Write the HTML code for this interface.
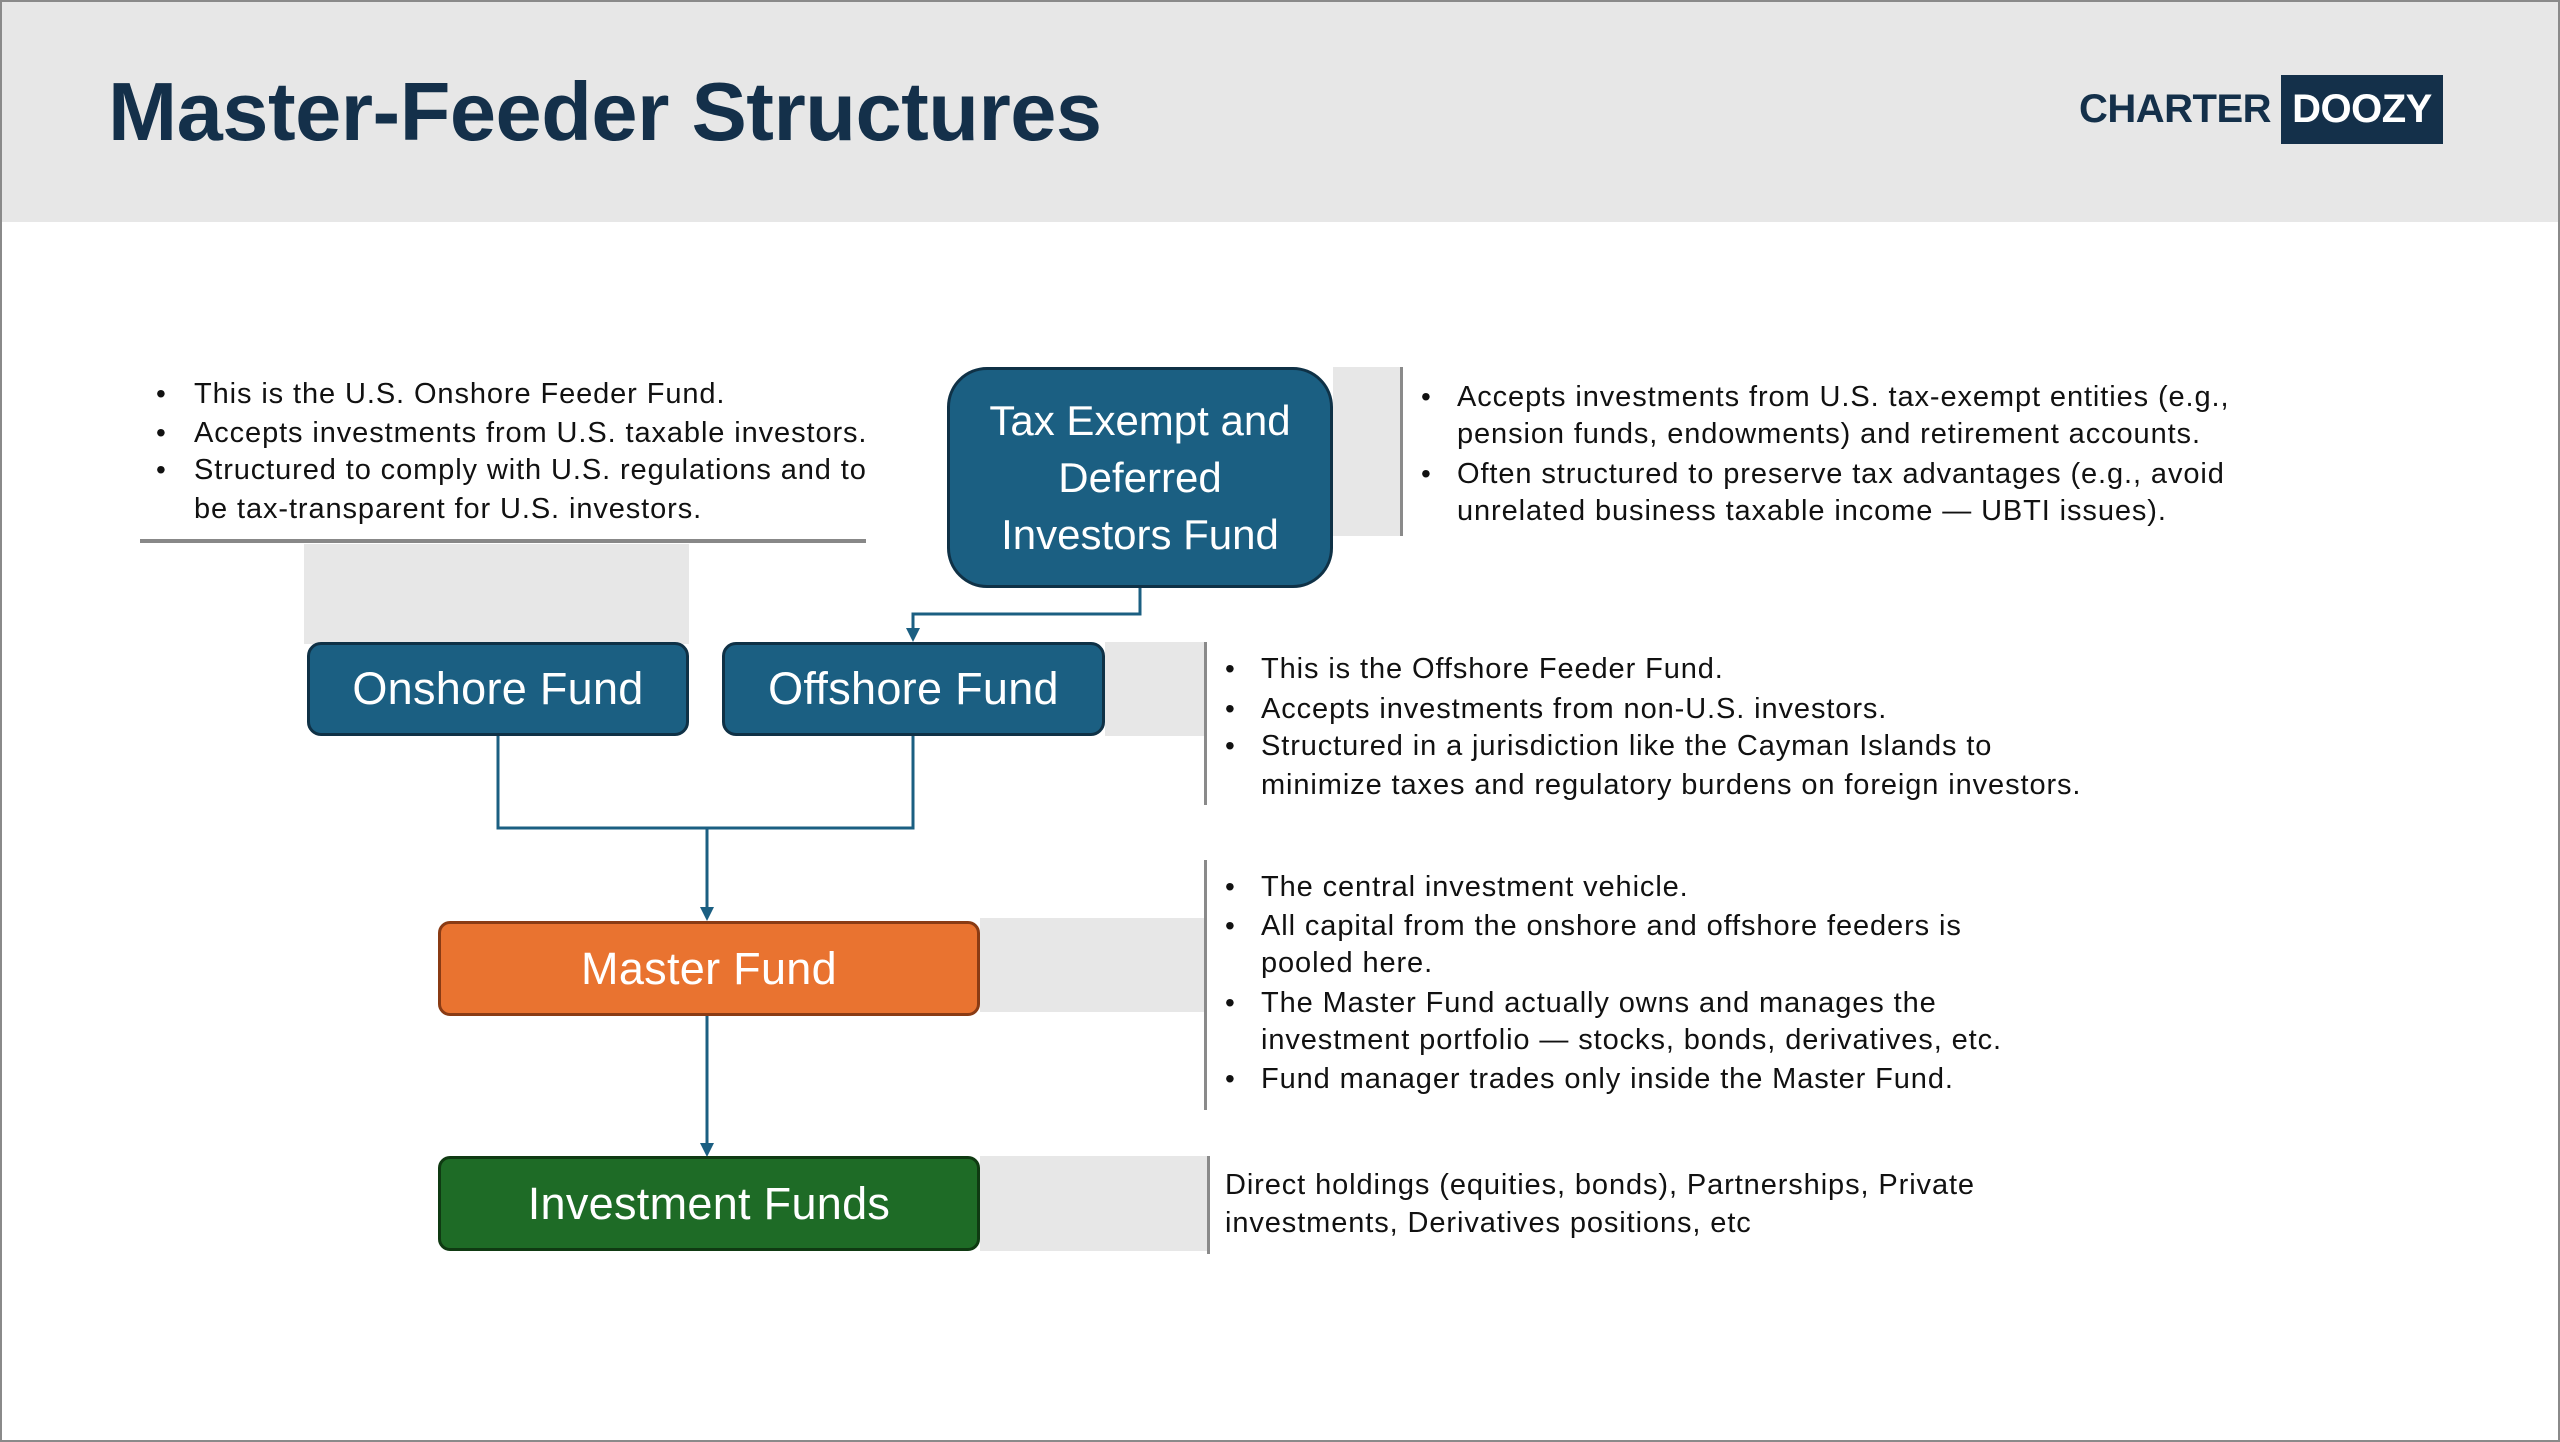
<!DOCTYPE html>
<html><head><meta charset="utf-8"><style>
html,body{margin:0;padding:0}
body{width:2560px;height:1442px;position:relative;overflow:hidden;background:#fff;font-family:"Liberation Sans",sans-serif;}
.frame{position:absolute;left:0;top:0;width:2556px;height:1438px;border:2px solid #8a8a8a;}
.hdr{position:absolute;left:2px;top:2px;width:2556px;height:220px;background:#e7e7e7}
.t{position:absolute;font-size:29px;color:#111;white-space:nowrap;letter-spacing:0.9px;line-height:1}
.b{position:absolute;font-size:28px;color:#111;line-height:1}
.g{position:absolute;background:#e7e7e7}
.vl{position:absolute;width:3px;background:#8a8a8a}
.box{position:absolute;box-sizing:border-box;display:flex;align-items:center;justify-content:center;color:#fff;text-align:center;font-size:45px;letter-spacing:0.3px}
</style></head><body>
<div class="frame"></div>
<div class="hdr"></div>
<div style="position:absolute;left:108px;top:70px;font-size:83px;font-weight:bold;color:#14304a;letter-spacing:-0.5px;line-height:1">Master-Feeder Structures</div>
<div style="position:absolute;left:2079px;top:89px;font-size:40px;font-weight:bold;color:#14304a;line-height:1;letter-spacing:-0.5px">CHARTER</div>
<div style="position:absolute;left:2281px;top:75px;width:162px;height:69px;background:#14304a;color:#fff;font-size:40px;font-weight:bold;display:flex;align-items:center;justify-content:center;letter-spacing:-0.5px">DOOZY</div>

<div class="g" style="left:304px;top:544px;width:385px;height:100px"></div>
<div class="g" style="left:1333px;top:367px;width:68px;height:169px"></div>
<div class="g" style="left:1105px;top:642px;width:100px;height:94px"></div>
<div class="g" style="left:980px;top:918px;width:225px;height:94px"></div>
<div class="g" style="left:980px;top:1156px;width:229px;height:95px"></div>
<div class="vl" style="left:1400px;top:367px;height:169px"></div>
<div class="vl" style="left:1204px;top:642px;height:163px"></div>
<div class="vl" style="left:1204px;top:860px;height:250px"></div>
<div class="vl" style="left:1207px;top:1156px;height:98px"></div>
<div style="position:absolute;left:140px;top:539px;width:726px;height:4px;background:#888"></div>

<svg style="position:absolute;left:0;top:0" width="2560" height="1442">
<g stroke="#1b5f82" stroke-width="3" fill="none">
<polyline points="1140,588 1140,614 913,614 913,630"/>
<polyline points="498,736 498,828 913,828 913,736"/>
<line x1="707" y1="828" x2="707" y2="910"/>
<line x1="707" y1="1016" x2="707" y2="1146"/>
</g>
<g fill="#1b5f82">
<polygon points="906,628 920,628 913,642"/>
<polygon points="700,907 714,907 707,921"/>
<polygon points="700,1143 714,1143 707,1157"/>
</g>
</svg>

<div class="box" style="left:947px;top:367px;width:386px;height:221px;border-radius:40px;background:#1b5f82;border:3px solid #0f3146;line-height:57px;font-size:42px;letter-spacing:0">Tax Exempt and<br>Deferred<br>Investors Fund</div>
<div class="box" style="left:307px;top:642px;width:382px;height:94px;border-radius:14px;background:#1b5f82;border:3px solid #0f3146">Onshore Fund</div>
<div class="box" style="left:722px;top:642px;width:383px;height:94px;border-radius:14px;background:#1b5f82;border:3px solid #0f3146">Offshore Fund</div>
<div class="box" style="left:438px;top:921px;width:542px;height:95px;border-radius:12px;background:#e97330;border:3px solid #8a3b14">Master Fund</div>
<div class="box" style="left:438px;top:1156px;width:542px;height:95px;border-radius:12px;background:#1e6b26;border:3px solid #0f3a12">Investment Funds</div>

<div class="b" style="left:156px;top:380px">•</div><div class="t" style="left:194px;top:380px">This is the U.S. Onshore Feeder Fund.</div>
<div class="b" style="left:156px;top:419px">•</div><div class="t" style="left:194px;top:419px">Accepts investments from U.S. taxable investors.</div>
<div class="b" style="left:156px;top:456px">•</div><div class="t" style="left:194px;top:456px">Structured to comply with U.S. regulations and to</div>
<div class="t" style="left:194px;top:495px">be tax-transparent for U.S. investors.</div>

<div class="b" style="left:1421px;top:383px">•</div><div class="t" style="left:1457px;top:383px">Accepts investments from U.S. tax-exempt entities (e.g.,</div>
<div class="t" style="left:1457px;top:420px">pension funds, endowments) and retirement accounts.</div>
<div class="b" style="left:1421px;top:460px">•</div><div class="t" style="left:1457px;top:460px">Often structured to preserve tax advantages (e.g., avoid</div>
<div class="t" style="left:1457px;top:497px">unrelated business taxable income — UBTI issues).</div>

<div class="b" style="left:1225px;top:655px">•</div><div class="t" style="left:1261px;top:655px">This is the Offshore Feeder Fund.</div>
<div class="b" style="left:1225px;top:695px">•</div><div class="t" style="left:1261px;top:695px">Accepts investments from non-U.S. investors.</div>
<div class="b" style="left:1225px;top:732px">•</div><div class="t" style="left:1261px;top:732px">Structured in a jurisdiction like the Cayman Islands to</div>
<div class="t" style="left:1261px;top:771px">minimize taxes and regulatory burdens on foreign investors.</div>

<div class="b" style="left:1225px;top:873px">•</div><div class="t" style="left:1261px;top:873px">The central investment vehicle.</div>
<div class="b" style="left:1225px;top:912px">•</div><div class="t" style="left:1261px;top:912px">All capital from the onshore and offshore feeders is</div>
<div class="t" style="left:1261px;top:949px">pooled here.</div>
<div class="b" style="left:1225px;top:989px">•</div><div class="t" style="left:1261px;top:989px">The Master Fund actually owns and manages the</div>
<div class="t" style="left:1261px;top:1026px">investment portfolio — stocks, bonds, derivatives, etc.</div>
<div class="b" style="left:1225px;top:1065px">•</div><div class="t" style="left:1261px;top:1065px">Fund manager trades only inside the Master Fund.</div>

<div class="t" style="left:1225px;top:1171px">Direct holdings (equities, bonds), Partnerships, Private</div>
<div class="t" style="left:1225px;top:1209px">investments, Derivatives positions, etc</div>
</body></html>
